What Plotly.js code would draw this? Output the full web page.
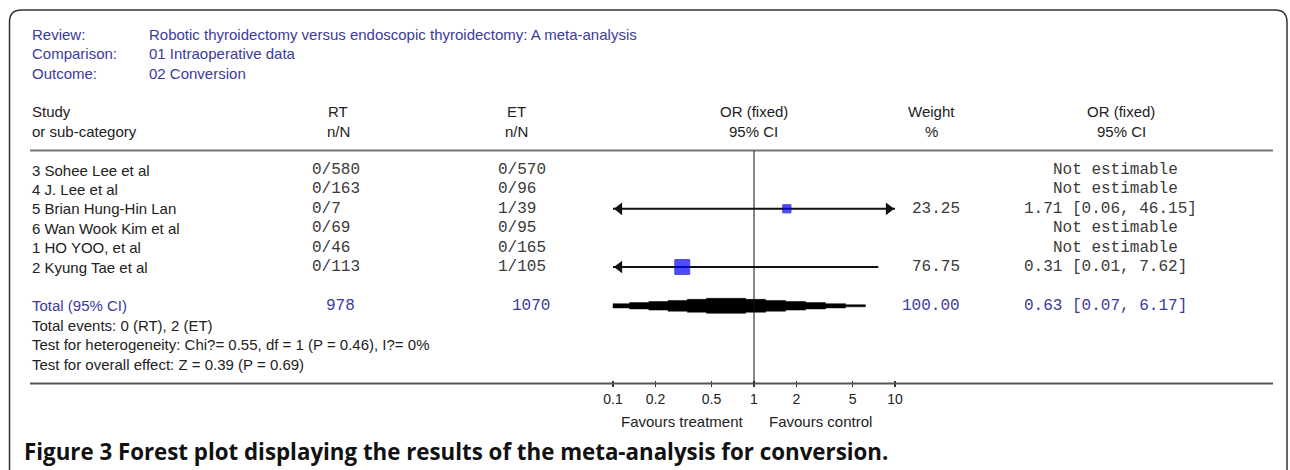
<!DOCTYPE html>
<html><head><meta charset="utf-8">
<script src="https://cdn.plot.ly/plotly-3.0.1.min.js"></script>
<style>html,body{margin:0;padding:0;background:#fff}</style>
</head><body><div id="chart" style="width:1290px;height:470px"></div>
<script>
// ---------- data ----------
const studies = ["3 Sohee Lee et al","4 J. Lee et al","5 Brian Hung-Hin Lan","6 Wan Wook Kim et al","1 HO YOO, et al","2 Kyung Tae et al"];
const rtEvents = ["0/580","0/163","0/7","0/69","0/46","0/113"];
const etEvents = ["0/570","0/96","1/39","0/95","0/165","1/105"];
const orValues = [null,null,1.71,null,null,0.31];
const ciLower  = [null,null,0.06,null,null,0.01];
const ciUpper  = [null,null,46.15,null,null,7.62];
const weights  = [null,null,23.25,null,null,76.75];
const totalRT = "978";
const totalET = "1070";
const totalOR = 0.63, totalLower = 0.07, totalUpper = 6.17;
const totalWeight = "100.00";
const tickValues = [0.1,0.2,0.5,1,2,5,10];
const tickLabels = ["0.1","0.2","0.5","1","2","5","10"];
const headerLabels = ["Review:","Comparison:","Outcome:"];
const headerValues = ["Robotic thyroidectomy versus endoscopic thyroidectomy: A meta-analysis","01 Intraoperative data","02 Conversion"];
const footnotes = ["Total events: 0 (RT), 2 (ET)","Test for heterogeneity: Chi?= 0.55, df = 1 (P = 0.46), I?= 0%","Test for overall effect: Z = 0.39 (P = 0.69)"];
const caption = "Figure 3 Forest plot displaying the results of the meta-analysis for conversion.";

// ---------- layout geometry ----------
const W = 1290, H = 470;
const ROW0 = 170, ROWH = 19.4;
const PXDEC = 141;
const X01 = 613;
const PAD = 0.05;
const xMin = 0.1, xMax = 10;
const rowOf = px => (px - ROW0) / ROWH;
const fx = px => px / W;
const fy = px => 1 - px / H;
const lg = Math.log10;

const sans = "Liberation Sans, Arial, sans-serif";
const mono = "Liberation Mono, Courier New, monospace";
const blue = "#3b3b9c";
const ink = "#222";
const monoInk = "#3a3a3a";
const SS = 15, MS = 16;

const ann = [];
function txt(text, xPx, row, opt) {
  opt = opt || {};
  ann.push({text: text, xref: "paper", x: fx(xPx), yref: "y", y: row,
    xanchor: opt.anchor || "left", yanchor: "middle", showarrow: false,
    font: {family: opt.family || sans, size: opt.size || SS, color: opt.color || ink}});
}
const m = (extra) => Object.assign({family: mono, size: MS, color: monoInk}, extra || {});

headerLabels.forEach((t, i) => txt(t, 30, -7 + i, {color: blue}));
headerValues.forEach((t, i) => txt(t, 147, -7 + i, {color: blue}));
txt("Study", 30, -3); txt("or sub-category", 30, -2);
txt("RT", 338, -3, {anchor: "center"}); txt("n/N", 338, -2, {anchor: "center"});
txt("ET", 516, -3, {anchor: "center"}); txt("n/N", 516, -2, {anchor: "center"});
txt("OR (fixed)", 754, -3, {anchor: "center"}); txt("95% CI", 754, -2, {anchor: "center"});
txt("Weight", 931, -3, {anchor: "center"}); txt("%", 931, -2, {anchor: "center"});
txt("OR (fixed)", 1121, -3, {anchor: "center"}); txt("95% CI", 1121, -2, {anchor: "center"});

const fmt = v => v.toFixed(2);
studies.forEach((s, i) => {
  txt(s, 30, i);
  txt(rtEvents[i], 310, i, m());
  txt(etEvents[i], 496, i, m());
  if (orValues[i] === null) {
    txt("Not estimable", 1051, i, m());
  } else {
    txt(fmt(weights[i]), 962, i, m({anchor: "right"}));
    txt(fmt(orValues[i]) + " [" + fmt(ciLower[i]) + ", " + fmt(ciUpper[i]) + "]", 1022, i, m());
  }
});
const TR = 7;
txt("Total (95% CI)", 30, TR, {color: blue});
txt(totalRT, 340, TR, m({color: blue, anchor: "center"}));
txt(totalET, 531, TR, m({color: blue, anchor: "center"}));
txt(totalWeight, 962, TR, m({color: blue, anchor: "right"}));
txt(fmt(totalOR) + " [" + fmt(totalLower) + ", " + fmt(totalUpper) + "]", 1022, TR, m({color: blue}));
footnotes.forEach((t, i) => txt(t, 30, TR + 1 + i));
txt("Favours treatment", 682, rowOf(421), {anchor: "center"});
txt("Favours control", 820, rowOf(421), {anchor: "center"});
ann.push({text: "<b>" + caption + "</b>", xref: "paper", yref: "paper", x: fx(22), y: fy(451),
  xanchor: "left", yanchor: "middle", showarrow: false,
  font: {family: "Open Sans, Noto Sans, sans-serif", size: 22.3, color: "#111"}});

// ---------- traces ----------
const clamp = v => Math.min(xMax, Math.max(xMin, v));
const traces = [];
const lineX = [], lineY = [], leftX = [], leftY = [], rightX = [], rightY = [];
const ARROW = 11;
const tipOff = (ARROW / 2) * 2 / Math.sqrt(3) / PXDEC;
orValues.forEach((v, i) => {
  if (v === null) return;
  lineX.push(clamp(ciLower[i]), clamp(ciUpper[i]), null);
  lineY.push(i, i, null);
  if (ciLower[i] < xMin) { leftX.push(Math.pow(10, lg(xMin) + tipOff)); leftY.push(i); }
  if (ciUpper[i] > xMax) { rightX.push(Math.pow(10, lg(xMax) - tipOff)); rightY.push(i); }
});
traces.push({x: lineX, y: lineY, mode: "lines", line: {color: "#111", width: 2}, hoverinfo: "skip"});
traces.push({x: leftX, y: leftY, mode: "markers", cliponaxis: false,
  marker: {symbol: "triangle-left", size: ARROW, color: "#111"}, hoverinfo: "skip"});
traces.push({x: rightX, y: rightY, mode: "markers", cliponaxis: false,
  marker: {symbol: "triangle-right", size: ARROW, color: "#111"}, hoverinfo: "skip"});
const sqX = [], sqY = [], sqS = [];
orValues.forEach((v, i) => { if (v !== null) { sqX.push(v); sqY.push(i); sqS.push(1.7 * Math.sqrt(weights[i])); } });
traces.push({x: sqX, y: sqY, mode: "markers",
  marker: {symbol: "square", size: sqS, color: "#0000ff", line: {color: "#0000b0", width: 1}}, hoverinfo: "skip"});

// stepped diamond for the pooled estimate
const S = 7, HALF = 7.5 / ROWH;
const dc = lg(totalOR), dL = dc - lg(totalLower), dR = lg(totalUpper) - dc;
const xl = k => dc - dL * (k + 1) / S, xr = k => dc + dR * (k + 1) / S, hh = k => HALF * (S - k) / S;
const topPts = [];
for (let k = S - 1; k >= 0; k--) { topPts.push([xl(k), -hh(k)]); if (k > 0) topPts.push([xl(k - 1), -hh(k)]); }
const rightPts = [];
for (let k = 0; k < S; k++) { rightPts.push([xr(k), -hh(k)]); if (k < S - 1) rightPts.push([xr(k), -hh(k + 1)]); }
const upper = topPts.concat(rightPts);
const poly = upper.concat(upper.slice().reverse().map(p => [p[0], -p[1]]));
poly.push(poly[0]);
const dX = poly.map(p => clamp(Math.pow(10, p[0])));
const dY = poly.map(p => TR + p[1]);
traces.push({x: dX, y: dY, mode: "lines", fill: "toself", fillcolor: "#000",
  line: {color: "#000", width: 0.5}, hoverinfo: "skip"});

// ---------- layout ----------
const domL = X01 - PAD * PXDEC, domR = X01 + (2 + PAD) * PXDEC;
const rr = 12;
const frame = "M" + fx(9.5) + "," + fy(475) + " L" + fx(9.5) + "," + fy(10 + rr) +
  " Q" + fx(9.5) + "," + fy(10) + " " + fx(9.5 + rr) + "," + fy(10) +
  " L" + fx(1287 - rr) + "," + fy(10) + " Q" + fx(1287) + "," + fy(10) + " " + fx(1287) + "," + fy(10 + rr) +
  " L" + fx(1287) + "," + fy(475);

const layout = {
  width: W, height: H, autosize: false,
  margin: {l: 0, r: 0, t: 0, b: 0, pad: 0},
  paper_bgcolor: "#fff", plot_bgcolor: "rgba(0,0,0,0)",
  showlegend: false,
  xaxis: {type: "log", range: [lg(xMin) - PAD, lg(xMax) + PAD], domain: [fx(domL), fx(domR)],
    anchor: "free", position: fy(380), showgrid: false, zeroline: false, showline: false,
    ticks: "outside", ticklen: 6, tickwidth: 1.5, tickcolor: "#333",
    tickvals: tickValues, ticktext: tickLabels, tickfont: {family: sans, size: 14, color: ink}, fixedrange: true},
  yaxis: {range: [rowOf(H), rowOf(0)], domain: [0, 1], visible: false, fixedrange: true},
  shapes: [
    {type: "path", path: frame, xref: "paper", yref: "paper", line: {color: "#333", width: 1.5}},
    {type: "line", xref: "paper", yref: "y", x0: fx(30), x1: fx(1273), y0: -1, y1: -1, line: {color: "#777", width: 2}},
    {type: "line", xref: "paper", yref: "y", x0: fx(30), x1: fx(1273), y0: 11, y1: 11, line: {color: "#555", width: 2}},
    {type: "line", xref: "x", yref: "y", x0: 1, x1: 1, y0: -1, y1: 11, line: {color: "#111", width: 1}}
  ],
  annotations: ann
};
Plotly.newPlot("chart", traces, layout, {staticPlot: true, displayModeBar: false});
</script>
</body></html>
